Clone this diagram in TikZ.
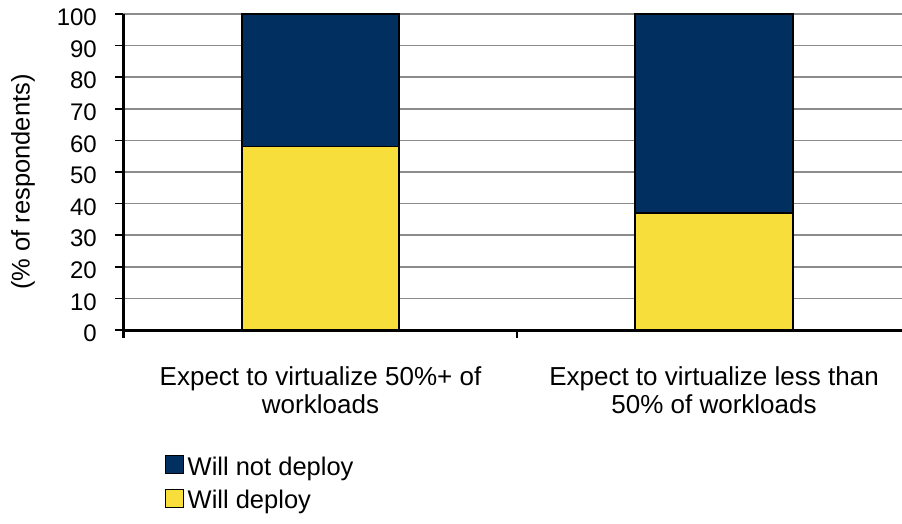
\documentclass[tikz,border=0pt]{standalone}
\usepackage{fontspec}
\setmainfont{Liberation Sans}
\usetikzlibrary{positioning}
\definecolor{navy}{RGB}{0,47,96}
\definecolor{gold}{RGB}{247,222,58}
\definecolor{gridgray}{RGB}{140,140,140}

\begin{document}
\begin{tikzpicture}[x=1pt,y=-1pt,
    grid/.style={draw=gridgray,line width=1.5pt},
    axis/.style={draw=black,line width=3pt},
    bar/.style={draw=black,line width=1.5pt},
    ticklabel/.style={font=\fontsize{24}{28}\selectfont,anchor=east,inner sep=0pt},
    catlabel/.style={font=\fontsize{26}{28.5}\selectfont,align=center,anchor=north,inner sep=0pt},
    legendbox/.style={draw=black,line width=1pt,minimum size=18pt,inner sep=0pt},
    legendtext/.style={font=\fontsize{25.5}{28.5}\selectfont,inner sep=0pt}]
  \useasboundingbox (0,0) rectangle (902,523);
  % grid and value ticks
  \foreach \v in {0,10,...,100} {
    \draw[grid] (123,{330-3.16*\v}) -- (902,{330-3.16*\v});
    \draw[black,line width=1.5pt] (115,{330-3.16*\v}) -- (123,{330-3.16*\v});
    \node[ticklabel] (tick\v) at (97,{333.5-3.16*\v}) {\v};
  }
  % bars
  \filldraw[bar,fill=gold] (242,330) rectangle (399,{330-3.16*58});
  \filldraw[bar,fill=navy] (242,{330-3.16*58}) rectangle (399,{330-3.16*100});
  \filldraw[bar,fill=gold] (635,330) rectangle (793,{330-3.16*37});
  \filldraw[bar,fill=navy] (635,{330-3.16*37}) rectangle (793,{330-3.16*100});
  % axes
  \draw[axis] (123,{330-3.16*100}) -- (123,338);
  \draw[axis] (123,330) -- (902,330);
  \draw[black,line width=2pt] (517,330) -- (517,338);
  % labels
  \node[legendtext,rotate=90] (ylabel) at (23,182) {(\% of respondents)};
  \node[catlabel] (cat1) at (320.5,366) {Expect to virtualize 50\%+ of\\workloads};
  \node[catlabel] (cat2) at (714,366) {Expect to virtualize less than\\50\% of workloads};
  % legend
  \node[legendbox,fill=navy] (legnot) at (174,464) {};
  \node[legendtext] (legnottext) [below right=2pt and 4pt of legnot.south east,anchor=base west] {Will not deploy};
  \node[legendbox,fill=gold] (legwill) at (174,498) {};
  \node[legendtext] (legwilltext) [below right=1pt and 4pt of legwill.south east,anchor=base west] {Will deploy};
\end{tikzpicture}
\end{document}
